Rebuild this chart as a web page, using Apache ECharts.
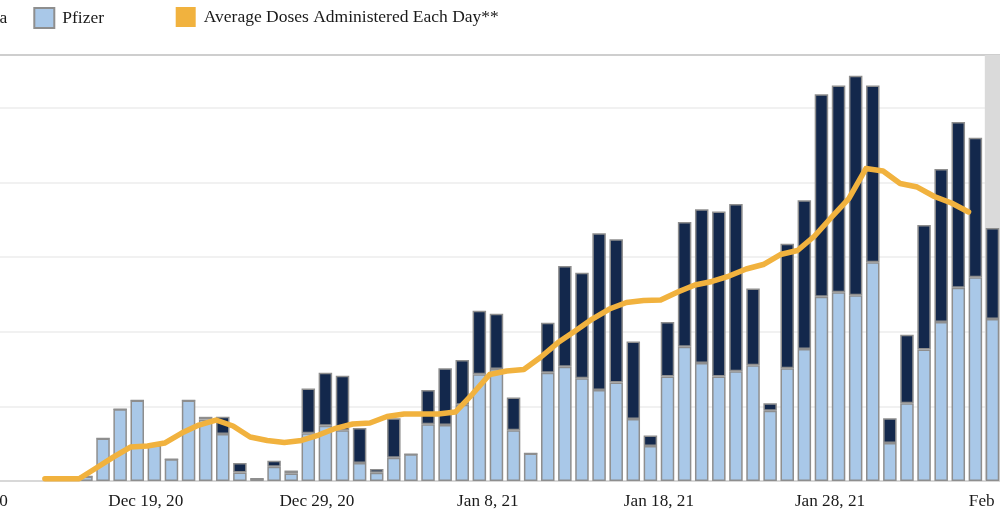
<!DOCTYPE html>
<html>
<head>
<meta charset="utf-8">
<script src="https://cdn.jsdelivr.net/npm/echarts@6/dist/echarts.min.js"></script>
<style>
html,body{margin:0;padding:0;background:#fff;overflow:hidden;width:1000px;height:523px;}
#c{position:absolute;left:-100px;top:0;width:1102px;height:523px;}
</style>
</head>
<body>
<div id="c"></div>
<script>
// Day index 0 = Dec 19, 2020
const tickLabels = ['Dec 9, 20','Dec 19, 20','Dec 29, 20','Jan 8, 21','Jan 18, 21','Jan 28, 21','Feb 7, 21'];
const tickStart = -10;
const tickEnd = 50;
const barFirstDay = -4;   // Dec 15
const pfizer = [0.6,5.7,9.6,10.8,4.8,2.9,10.8,8.25,6.3,1.15,0.3,1.9,1.0,6.4,7.4,6.8,2.4,1.1,3.1,3.6,7.6,7.5,10.2,14.3,15.0,6.8,3.7,14.5,15.3,13.75,12.2,13.2,8.3,4.7,14.0,18.0,15.8,14.0,14.7,15.5,9.4,15.1,17.7,24.7,25.3,24.9,29.3,5.1,10.4,17.6,21.3,25.9,27.3,21.7];
const moderna = [0,0,0,0,0,0,0,0.35,2.3,1.25,0,0.8,0.4,6.0,7.1,7.3,4.7,0.5,5.3,0,4.6,7.6,6.0,8.5,7.4,4.4,0,6.7,13.5,14.15,21.0,19.2,10.4,1.4,7.3,16.7,20.6,22.1,22.4,10.3,1.0,16.7,19.9,27.1,27.7,29.4,23.7,3.3,9.2,16.7,20.5,22.2,18.7,12.2];
const lineFirstDay = -6;  // Dec 13
const average = [0.3,0.3,0.3,1.74,3.2,4.55,4.69,5.09,6.43,7.5,8.17,7.37,5.89,5.43,5.16,5.43,6.16,7.06,7.64,7.77,8.64,8.98,8.98,8.98,9.24,11.65,14.27,14.74,14.94,16.61,18.55,20.09,21.7,23.04,23.91,24.18,24.25,25.32,26.26,26.73,27.46,28.4,29.0,30.34,30.88,32.82,35.37,37.84,41.86,41.53,39.85,39.38,38.11,37.24,36.04];
const shadedFromDay = 49;
const yMax = 57.07;

// one category per day across the whole axis
const dayCats = [];
for (let d = tickStart; d < tickEnd; d++) dayCats.push(String(d));
const pad = arr => dayCats.map((_, k) => {
  const i = k + tickStart - barFirstDay;
  return (i >= 0 && i < arr.length) ? arr[i] : null;
});
const LINE_OFF = 0.1;
const avData = average.map((v,i)=>[lineFirstDay+i+LINE_OFF, v]);

const FONT = 'Liberation Serif';
const chart = echarts.init(document.getElementById('c'), null, {renderer:'canvas'});
const legendBase = {
  top: 7, padding: 0, itemWidth: 20, itemHeight: 20, icon: 'rect',
  textStyle: {fontFamily: FONT, fontSize: 17.5, color: '#1a1a1a', padding: [0,0,0,3]},
  selectedMode: false
};
const barStyle = {borderColor: '#8e8e8e', borderWidth: 1.5};
chart.setOption({
  animation: false,
  backgroundColor: '#ffffff',
  legend: [
    Object.assign({}, legendBase, {left: 15, data: ['Moderna']}),
    Object.assign({}, legendBase, {left: 133.3, data: ['Pfizer']}),
    Object.assign({}, legendBase, {left: 275.7, data: ['Average Doses Administered Each Day**'], itemStyle: {borderWidth: 0}})
  ],
  grid: {left: 74.75, right: 0.95, top: 55, bottom: 42, containLabel: false, outerBoundsMode: 'none'},
  xAxis: [{
    type: 'category', data: dayCats, boundaryGap: true,
    axisLine: {show: false}, axisTick: {show: false}, axisLabel: {show: false}, splitLine: {show: false}
  },{
    type: 'value', min: tickStart, max: tickEnd, interval: 10, position: 'bottom',
    axisLine: {show: true, onZero: false, lineStyle: {color: '#cfcfcf', width: 1.5}},
    axisTick: {show: false},
    splitLine: {show: false},
    axisLabel: {
      margin: 12, showMinLabel: true, showMaxLabel: true,
      fontFamily: FONT, fontSize: 17.2, color: '#1a1a1a',
      formatter: v => tickLabels[Math.round((v - tickStart)/10)] || ''
    }
  },{
    type: 'value', position: 'top', min: tickStart, max: tickEnd,
    axisLine: {show: true, onZero: false, lineStyle: {color: '#cecece', width: 2}},
    axisTick: {show: false}, axisLabel: {show: false}, splitLine: {show: false}
  }],
  yAxis: {
    type: 'value', min: 0, max: yMax, interval: 10,
    axisLine: {show: false}, axisTick: {show: false}, axisLabel: {show: false},
    splitLine: {show: true, lineStyle: {color: '#ececec', width: 1.5}}
  },
  series: [
    {
      type: 'line', name: '_shade', xAxisIndex: 1, data: [[shadedFromDay+0.05, 0]], z: -1,
      showSymbol: false, symbol: 'none', lineStyle: {width: 0, opacity: 0},
      silent: true, legendHoverLink: false,
      markArea: {silent: true, itemStyle: {color: '#dadada'},
        data: [[{xAxis: shadedFromDay+0.05, yAxis: 0}, {xAxis: tickEnd, yAxis: yMax}]]}
    },
    {
      type: 'bar', name: 'Pfizer', stack: 'doses', xAxisIndex: 0, data: pad(pfizer), barWidth: 13.5,
      itemStyle: Object.assign({color: '#a9c8e8'}, barStyle), z: 2
    },
    {
      type: 'bar', name: 'Moderna', stack: 'doses', xAxisIndex: 0, data: pad(moderna), barWidth: 13.5,
      itemStyle: Object.assign({color: '#13284c'}, barStyle), z: 2
    },
    {
      type: 'line', name: 'Average Doses Administered Each Day**', xAxisIndex: 1, data: avData,
      showSymbol: false, symbol: 'none', z: 5,
      itemStyle: {color: '#f1b23e'},
      lineStyle: {color: '#f1b23e', width: 5.5, cap: 'round', join: 'round'}
    }
  ]
});
</script>
</body>
</html>
